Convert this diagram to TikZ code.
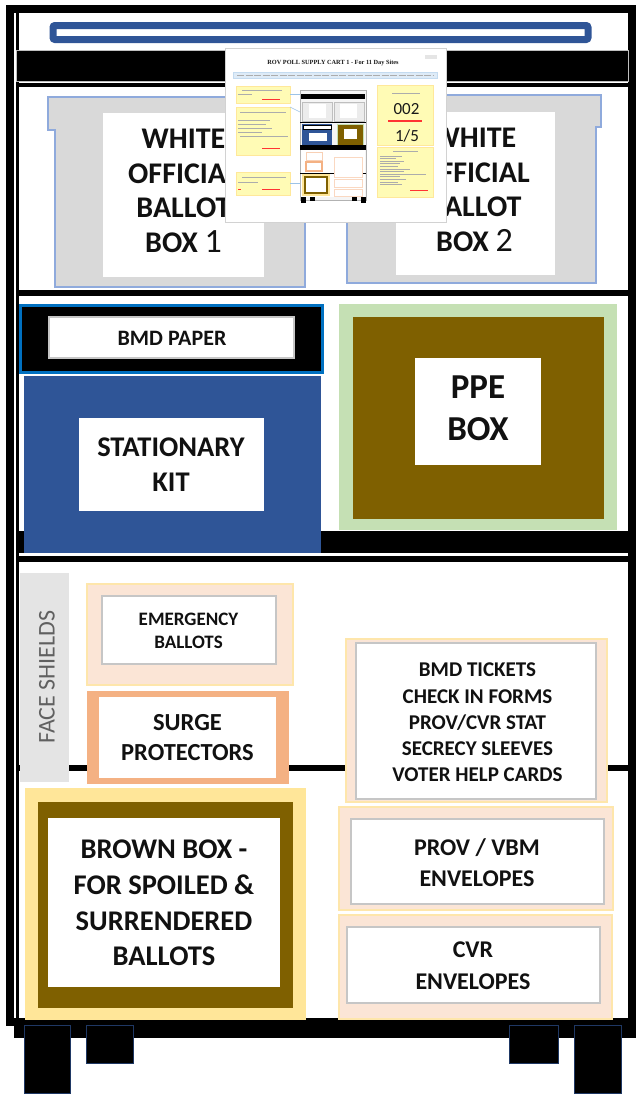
\documentclass[tikz,border=0pt]{standalone}
\usepackage{fontspec}
\setmainfont{Carlito}
\newfontfamily\thumbserif{Liberation Serif}
\definecolor{cartblue}{HTML}{2F5597}
\definecolor{brightblue}{HTML}{0070C0}
\definecolor{boxgray}{HTML}{D9D9D9}
\definecolor{boxedge}{HTML}{8FAADC}
\definecolor{ppegreen}{HTML}{C5E0B4}
\definecolor{brownbox}{HTML}{7F6000}
\definecolor{peach}{HTML}{FBE5D6}
\definecolor{lightgold}{HTML}{FFE699}
\definecolor{surgeorange}{HTML}{F4B183}
\definecolor{shieldgray}{HTML}{E4E4E4}
\definecolor{legedge}{HTML}{1F3864}
\definecolor{noteyellow}{HTML}{FFFBB5}
\definecolor{notebar}{HTML}{DEEBF7}
\definecolor{linkblue}{HTML}{9DC3E6}
\definecolor{inkdark}{HTML}{111111}
% rectangle as a named node: style, name, x1, y1, x2, y2 (pixel grid, y down)
\newcommand{\cbox}[6]{\node[#1, anchor=north west, inner sep=0pt, outer sep=0pt,
  minimum width={#5-#3}, minimum height={#6-#4}] (#2) at (#3,#4) {};}
\begin{document}
\begin{tikzpicture}[x=1pt, y=-1pt,
  lbl/.style={align=center, text=inkdark, inner sep=0pt},
  whitelabel/.style={fill=white, draw=gray!45, line width=1.2},
  peachbox/.style={fill=peach, draw=lightgold!70!peach, line width=2},
  leg/.style={fill=black, draw=legedge, line width=1},
  ink/.style={gray!65, line width=0.9},
  redink/.style={red!80, line width=0.9},
  note/.style={fill=noteyellow, draw=noteyellow!85!orange, line width=0.4}]
\useasboundingbox (0,0) rectangle (636,1095);

% ---------- cart frame ----------
\fill (14,1019) rectangle (636,1038);
\draw[line width=8] (9.5,8.5) rectangle (632,1022);
\draw[line width=3] (17.5,12) -- (17.5,1018);
\draw[line width=4] (17,85) -- (628,85);
\draw[line width=6] (17,293) -- (628,293);
\draw[line width=6] (17,558.5) -- (628,558.5);
\draw[line width=6, line cap=round] (19,767.5) -- (632,767.5);

% legs
\cbox{leg}{leg1}{24}{1025}{70}{1093}
\cbox{leg}{leg2}{86}{1025}{133}{1063}
\cbox{leg}{leg3}{509}{1025}{558}{1063}
\cbox{leg}{leg4}{574}{1025}{621}{1093}

% ---------- top shelf ----------
\draw[cartblue, line width=7, fill=white, rounded corners=2] (53,25.5) rectangle (588,39.5);
\cbox{fill=black, draw=gray!50, line width=0.8}{topband}{16}{50}{628}{81}

% ---------- ballot boxes ----------
\draw[fill=boxgray, draw=boxedge, line width=2.5]
  (48,97) -- (312,97) -- (312,130) -- (305,130) -- (305,287) -- (55,287) -- (55,130) -- (48,130) -- cycle;
\draw[fill=boxgray, draw=boxedge, line width=2.5]
  (341,95) -- (601,95) -- (601,127) -- (596,127) -- (596,283) -- (347,283) -- (347,127) -- (341,127) -- cycle;
\cbox{fill=white}{lab1}{103}{113}{264}{277}
\cbox{fill=white}{lab2}{396}{112}{555}{275}
\node[lbl, font={\fontsize{30}{34.7}\selectfont\bfseries}] (box1txt) at (183.5,191)
  {WHITE\\OFFICIAL\\BALLOT\\BOX {\mdseries\fontsize{34}{34.7}\selectfont 1}};
\node[lbl, font={\fontsize{30}{34.7}\selectfont\bfseries}] (box2txt) at (474.5,190)
  {WHITE\\OFFICIAL\\BALLOT\\BOX {\mdseries\fontsize{34}{34.7}\selectfont 2}};

% ---------- supply sheet pinned over the boxes ----------
\cbox{fill=white, draw=gray!35, line width=0.8}{sheet}{225}{48}{446}{222}
\node[inner sep=0pt, font={\thumbserif\fontsize{6.3}{7}\selectfont\bfseries}, text=gray!20!black] (sheettitle) at (333,63)
  {ROV POLL SUPPLY CART 1 - For 11 Day Sites};
\cbox{fill=gray!20}{sheetx}{425}{55}{437}{59}
\cbox{fill=notebar, draw=linkblue!60, line width=0.4}{sheetbar}{233}{72}{437}{78}
\draw[ink, line width=0.8, dash pattern=on 7pt off 1.5pt] (237,75) -- (433,75);
% notes, left column
\cbox{note}{note1}{236}{86}{290}{103}
\cbox{note}{note2}{236}{107}{290}{155}
\cbox{note}{note3}{236}{172}{290}{195}
\draw[ink] (242,90) -- (282,90) (238,94) -- (252,94);
\draw[redink] (262,99) -- (280,99);
\draw[ink] (240,112) -- (286,112) (238,120) -- (270,120) (238,124) -- (266,124)
  (238,128) -- (272,128) (238,132) -- (262,132) (240,136) -- (288,136);
\draw[redink] (262,148) -- (280,148);
\draw[ink] (242,177) -- (286,177) (238,182) -- (258,182);
\draw[redink] (238,189) -- (241,189) (262,189) -- (280,189);
% miniature cart
\cbox{fill=gray!8, draw=gray!60, line width=1}{thumb}{300}{90}{366}{200}
\draw[linkblue, line width=0.6] (note1.east) -- (thumb.west |- note1.east);
\draw[linkblue, line width=0.6] (note2.north east) -- (300,112);
\draw[linkblue, line width=0.6] (note3.east) -- (thumb.west |- note3.east);
\cbox{fill=black}{tbar}{301}{94}{365}{99}
\cbox{fill=gray!15, draw=gray!50, line width=0.5}{tb1}{302}{102}{332}{121}
\cbox{fill=gray!15, draw=gray!50, line width=0.5}{tb2}{334}{102}{364}{121}
\cbox{fill=white}{tb1l}{309}{104}{326}{118}
\cbox{fill=white}{tb2l}{340}{104}{357}{118}
\draw[line width=1.5] (300,122.5) -- (366,122.5);
\cbox{fill=cartblue}{tstat}{302}{124}{332}{145}
\cbox{fill=white, draw=black, line width=0.8}{tbmd}{303}{125}{331}{129}
\cbox{fill=white}{tstatl}{309}{133}{327}{141}
\cbox{fill=brownbox, draw=ppegreen, line width=1}{tppe}{337}{124}{363}{145}
\cbox{fill=white}{tppel}{344}{129}{357}{139}
\cbox{fill=black}{tband}{300}{145}{366}{150}
\cbox{fill=white}{tlow}{301}{150}{365}{197}
\draw[line width=1] (300,173) -- (366,173);
\cbox{fill=white, draw=surgeorange!60, line width=0.8}{temer}{306}{152}{322}{160}
\cbox{fill=white, draw=surgeorange, line width=1.2}{tsurge}{306}{162}{322}{171}
\cbox{fill=white, draw=surgeorange!50, line width=0.8}{ttick}{334}{157}{362}{177}
\cbox{fill=lightgold}{tbrn}{302}{174}{330}{196}
\cbox{fill=brownbox}{tbrn2}{304}{176}{328}{194}
\cbox{fill=white}{tbrnl}{306}{178}{326}{192}
\cbox{fill=white, draw=surgeorange!50, line width=0.8}{tprov}{334}{179}{362}{187}
\cbox{fill=white, draw=surgeorange!50, line width=0.8}{tcvr}{334}{189}{362}{196}
\cbox{fill=black}{tleg1}{301}{197}{306}{203}
\cbox{fill=black}{tleg2}{310}{197}{315}{201}
\cbox{fill=black}{tleg3}{352}{197}{357}{201}
\cbox{fill=black}{tleg4}{361}{197}{366}{203}
% cart number panel
\cbox{note}{numpanel}{377}{85}{433}{145}
\draw[ink] (392,93) -- (420,93);
\node[inner sep=0pt, font={\fontsize{17}{17}\selectfont}, text=gray!20!black] (cartno) at (406.5,109) {002};
\draw[redink, line width=1.4] (388,121) -- (422,121);
\node[inner sep=0pt, font={\fontsize{17}{17}\selectfont}, text=gray!20!black] (cartof) at (407,136) {1/5};
\cbox{note}{listpanel}{377}{147}{433}{197}
\draw[ink] (393,151) -- (418,151);
\foreach \yy/\xx in {156/402,158.6/396,161.2/404,163.8/400,166.4/398,169/410,171.6/404,174.2/426,176.8/400,179.4/406,182/398,184.6/402}
  \draw[ink, line width=0.7] (380,\yy) -- (\xx,\yy);
\draw[redink] (410,190) -- (428,190);

% ---------- middle shelf ----------
\cbox{fill=black}{midband}{16}{531}{630}{553}
\cbox{fill=black, draw=brightblue, line width=3}{bmd}{20}{305}{322}{372}
\cbox{whitelabel}{bmdl}{49}{317}{294}{358}
\node[lbl, font={\fontsize{22}{26}\selectfont\bfseries}] (bmdtxt) at (172,338) {BMD PAPER};
\cbox{fill=cartblue}{stat}{23.5}{376}{321}{553}
\cbox{fill=white}{statl}{79}{418}{264}{511}
\node[lbl, font={\fontsize{28.5}{35}\selectfont\bfseries}] (stattxt) at (171,465) {STATIONARY\\KIT};
\cbox{fill=ppegreen}{ppe}{339}{304}{617}{530}
\cbox{fill=brownbox}{ppein}{353}{317}{604}{519}
\cbox{fill=white}{ppel}{415}{358}{541}{465}
\node[lbl, font={\fontsize{35}{42}\selectfont\bfseries}] (ppetxt) at (478,408) {PPE\\BOX};

% ---------- lower shelf ----------
\cbox{fill=shieldgray}{shield}{20}{573}{69}{782}
\node[inner sep=0pt, rotate=90, text=gray!75!black, font={\fontsize{24}{24}\selectfont}] (shieldtxt) at (47,677) {FACE SHIELDS};

\cbox{peachbox}{emer}{87}{584}{293}{685}
\cbox{whitelabel}{emerl}{102}{596}{276}{664}
\node[lbl, font={\fontsize{19}{23}\selectfont\bfseries}] (emertxt) at (188.5,631) {EMERGENCY\\BALLOTS};

\cbox{fill=surgeorange}{surge}{87}{691}{289}{784}
\cbox{fill=white}{surgel}{99}{697}{276}{778}
\node[lbl, font={\fontsize{24.5}{30}\selectfont\bfseries}] (surgetxt) at (187.5,738) {SURGE\\PROTECTORS};

\cbox{peachbox}{tick}{346}{639}{607}{802}
\cbox{whitelabel}{tickl}{356}{643}{596}{799}
\node[lbl, font={\fontsize{21}{26.25}\selectfont\bfseries}] (ticktxt) at (477.5,722.5)
  {BMD TICKETS\\CHECK IN FORMS\\PROV/CVR STAT\\SECRECY SLEEVES\\VOTER HELP CARDS};

\cbox{fill=lightgold}{brn}{25}{788}{306}{1020}
\cbox{fill=brownbox}{brnin}{38}{802}{293}{1008}
\cbox{fill=white}{brnl}{48}{818}{280}{987}
\node[lbl, font={\fontsize{28.5}{35.7}\selectfont\bfseries}] (brntxt) at (164,903)
  {BROWN BOX -\\FOR SPOILED \&\\SURRENDERED\\BALLOTS};

\cbox{peachbox}{prov}{339}{807}{613}{910}
\cbox{whitelabel}{provl}{351}{819}{604}{904}
\node[lbl, font={\fontsize{24}{31}\selectfont\bfseries}] (provtxt) at (477,862.5) {PROV / VBM\\ENVELOPES};

\cbox{peachbox}{cvr}{339}{915}{612}{1019}
\cbox{whitelabel}{cvrl}{347}{927}{600}{1003}
\node[lbl, font={\fontsize{24}{32}\selectfont\bfseries}] (cvrtxt) at (473,966) {CVR\\ENVELOPES};
\end{tikzpicture}
\end{document}
